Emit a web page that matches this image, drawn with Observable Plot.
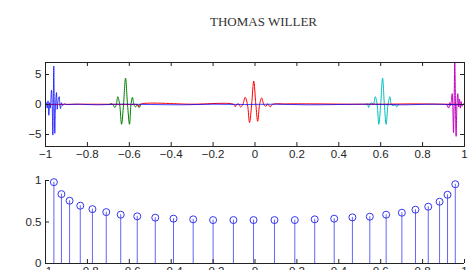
<!DOCTYPE html>
<html>
<head>
<meta charset="utf-8">
<script src="https://cdn.jsdelivr.net/npm/d3@7"></script>
<script src="https://cdn.jsdelivr.net/npm/@observablehq/plot@0.6"></script>
<style>
  html, body { margin: 0; padding: 0; background: #fff; }
  #page { position: relative; width: 474px; height: 270px; overflow: hidden; background: #fff; }
  #title { position: absolute; top: 15px; left: 263.5px; transform: translateX(-50%);
           font-family: "Liberation Serif", "DejaVu Serif", serif; font-size: 13px; line-height: 13px;
           color: #333; white-space: nowrap; }
  #top { position: absolute; top: 52px; left: 0; }
  #bottom { position: absolute; top: 170px; left: 0; }
</style>
</head>
<body>
<div id="page">
  <div id="title">THOMAS WILLER</div>
  <div id="top"></div>
  <div id="bottom"></div>
</div>
<script>
// ---- tick values and labels ----
const xTicks = [-1, -0.8, -0.6, -0.4, -0.2, 0, 0.2, 0.4, 0.6, 0.8, 1];
const xTickLabels = ["−1", "−0.8", "−0.6", "−0.4", "−0.2", "0", "0.2", "0.4", "0.6", "0.8", "1"];
const topYTicks = [-5, 0, 5];
const topYTickLabels = ["−5", "0", "5"];
const bottomYTicks = [0, 0.5, 1];
const bottomYTickLabels = ["0", "0.5", "1"];

// ---- top panel: wave packets ----
const blueX = [-1, -0.996, -0.992, -0.988, -0.984, -0.980, -0.977, -0.974, -0.9714, -0.968, -0.965, -0.9628, -0.9604, -0.958, -0.9556, -0.952, -0.9475, -0.944, -0.940, -0.9346, -0.931, -0.928, -0.924, -0.918, -0.912, -0.90,
  -0.85, -0.75, -0.65, -0.5, -0.35, -0.2, -0.05, 0.1, 0.25, 0.4, 0.55, 0.7, 0.85, 0.93, 1];
const blueY = [0, 0.3, -0.6, 0.6, -1.8, 0.3, -0.6, 1.0, 2.4, 0, -5.1, 0, 6.4, 0, -4.8, 0, 2.0, -0.8, 0.6, 1.3, -0.3, -0.7, 0.3, -0.2, 0.1, 0,
  0.05, -0.05, 0.05, 0, -0.05, 0.05, 0, 0.05, -0.05, 0, 0.05, -0.05, 0.05, 0, 0];

const greenX = [-0.695, -0.685, -0.677, -0.669, -0.662, -0.655, -0.646, -0.637, -0.6275, -0.618, -0.6085, -0.599, -0.592, -0.585, -0.578, -0.570, -0.562, -0.553, -0.545];
const greenY = [0, 0.15, -0.1, -0.5, 0, 1.3, 0, -3.3, 0, 4.4, 0, -3.3, 0, 1.2, 0, -0.4, 0, -0.5, 0];

const redX = [-1, -0.8, -0.6, -0.56, -0.555, -0.55, -0.3, -0.1, -0.094, -0.088, -0.078, -0.069, -0.058, -0.047, -0.036, -0.026, -0.016, -0.006, 0.004, 0.013, 0.022, 0.032, 0.042, 0.052, 0.060, 0.073, 0.082,
  0.15, 0.3, 0.45, 0.6, 0.75, 0.9, 1];
const redY = [0, 0.05, 0, -0.05, -0.4, 0, 0.05, 0, -0.4, 0, 0.1, -0.4, 0, 1.2, 0, -3.0, 0, 3.9, 0, -2.8, 0, 1.1, 0, -0.3, 0.1, -0.4, 0,
  0.1, 0.1, 0.05, 0.05, 0.1, 0.05, 0];

const cyanX = [0.530, 0.537, 0.542, 0.549, 0.556, 0.565, 0.574, 0.583, 0.591, 0.600, 0.609, 0.6175, 0.626, 0.635, 0.644, 0.651, 0.660, 0.668, 0.677, 0.685];
const cyanY = [0, 0.1, -0.5, 0, 0.3, 0, 1.3, 0, -3.3, 0, 4.4, 0, -3.3, 0, 1.3, 0, -0.2, 0, -0.4, 0];

const magentaX = [0.915, 0.925, 0.929, 0.933, 0.937, 0.941, 0.944, 0.9475, 0.9505, 0.9535, 0.957, 0.960, 0.964, 0.968, 0.972, 0.976, 0.980, 0.984, 0.988, 0.993, 1];
const magentaY = [0, -0.6, 0.3, -0.2, 0.5, 1.8, 0, -4.7, 0, 7.2, 0, -5.3, 0, 1.8, -0.4, 0.9, -0.6, 0.5, -0.3, 0.1, 0];

// ---- bottom panel: stems ----
const stemX = [-0.960, -0.924, -0.885, -0.834, -0.776, -0.710, -0.641, -0.562, -0.476, -0.389, -0.295, -0.200, -0.103, -0.007,
  0.093, 0.190, 0.285, 0.378, 0.465, 0.548, 0.626, 0.701, 0.766, 0.827, 0.881, 0.919, 0.956];
const stemY = [0.980, 0.836, 0.756, 0.696, 0.655, 0.619, 0.588, 0.568, 0.552, 0.540, 0.532, 0.523, 0.523, 0.523,
  0.523, 0.523, 0.532, 0.540, 0.556, 0.564, 0.588, 0.612, 0.648, 0.684, 0.744, 0.828, 0.955];

const series = (xs, ys) => xs.map((x, i) => ({x, y: ys[i]}));
const lookup = (vals, labels) => d => labels[vals.indexOf(d)];

const axisStyle = {fontFamily: "'Liberation Sans', Arial, sans-serif", fontSize: "11.5px", color: "#262626", background: "transparent", overflow: "visible"};

// top panel
const topH = 119, topMT = 10, topMB = 25, topML = 45, topMR = 10;
const innerTopH = topH - topMT - topMB;
const innerW = 474 - topML - topMR;
const lineOpts = {x: "x", y: "y", strokeWidth: 1, curve: "catmull-rom", clip: true};
const topPlot = Plot.plot({
  width: 474, height: topH, marginTop: topMT, marginBottom: topMB, marginLeft: topML, marginRight: topMR,
  style: axisStyle,
  x: {domain: [-1, 1], ticks: xTicks, tickFormat: lookup(xTicks, xTickLabels), tickSize: 0, tickPadding: 3, label: null},
  y: {domain: [-7, 7], ticks: topYTicks, tickFormat: lookup(topYTicks, topYTickLabels), tickSize: 0, tickPadding: 4, label: null},
  marks: [
    Plot.line(series(greenX, greenY), {...lineOpts, stroke: "#008000"}),
    Plot.line(series(cyanX, cyanY), {...lineOpts, stroke: "#00bfbf"}),
    Plot.line(series(magentaX, magentaY), {...lineOpts, stroke: "#bf00bf"}),
    Plot.line(series(redX, redY), {...lineOpts, stroke: "#ff0000"}),
    Plot.line(series(blueX, blueY), {...lineOpts, stroke: "#0000ff", strokeOpacity: 0.75}),
    Plot.tickX(xTicks, {x: d => d, insetTop: innerTopH - 4, stroke: "#222"}),
    Plot.tickX(xTicks, {x: d => d, insetBottom: innerTopH - 4, stroke: "#222"}),
    Plot.tickY(topYTicks, {y: d => d, insetRight: innerW - 4, stroke: "#222"}),
    Plot.tickY(topYTicks, {y: d => d, insetLeft: innerW - 4, stroke: "#222"}),
    Plot.frame({stroke: "#222"})
  ]
});
document.getElementById("top").appendChild(topPlot);

// bottom panel
const botH = 118, botMT = 10, botMB = 25;
const innerBotH = botH - botMT - botMB;
const stems = series(stemX, stemY);
const bottomPlot = Plot.plot({
  width: 474, height: botH, marginTop: botMT, marginBottom: botMB, marginLeft: topML, marginRight: topMR,
  style: axisStyle,
  x: {domain: [-1, 1], ticks: xTicks, tickFormat: lookup(xTicks, xTickLabels), tickSize: 0, tickPadding: 3, label: null},
  y: {domain: [0, 1], ticks: bottomYTicks, tickFormat: lookup(bottomYTicks, bottomYTickLabels), tickSize: 0, tickPadding: 4, label: null},
  marks: [
    Plot.ruleX(stems, {x: "x", y1: 0, y2: "y", stroke: "#4a4af5", strokeWidth: 1, strokeOpacity: 0.85}),
    Plot.dot(stems, {x: "x", y: "y", r: 3.5, stroke: "#3535ee", strokeWidth: 1, fill: "none"}),
    Plot.tickX(xTicks, {x: d => d, insetTop: innerBotH - 4, stroke: "#222"}),
    Plot.tickY(bottomYTicks, {y: d => d, insetRight: innerW - 4, stroke: "#222"}),
    Plot.ruleX([-1], {stroke: "#222"}),
    Plot.ruleY([0], {stroke: "#222"})
  ]
});
document.getElementById("bottom").appendChild(bottomPlot);
</script>
</body>
</html>
